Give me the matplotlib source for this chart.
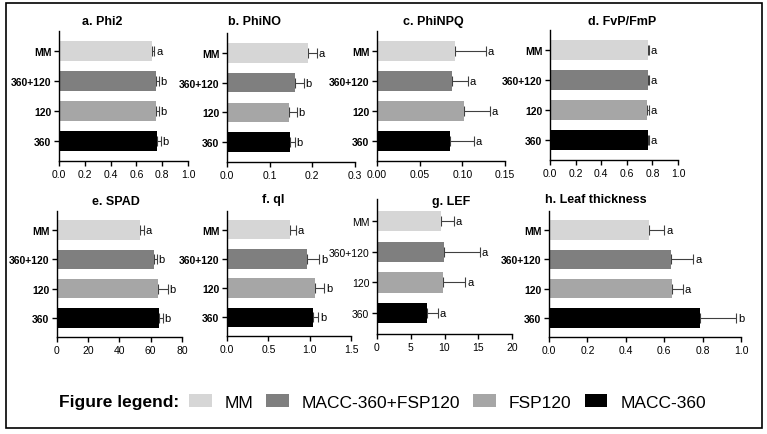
import matplotlib
matplotlib.use('Agg')
import matplotlib.pyplot as plt
from matplotlib.patches import Rectangle
import numpy as np

plt.rcParams['font.family'] = ['Liberation Sans', 'DejaVu Sans']

# groups, top to bottom
groups = ['MM', '360+120', '120', '360']
legend_names = ['MM', 'MACC-360+FSP120', 'FSP120', 'MACC-360']
colors = ['#d6d6d6', '#7f7f7f', '#a6a6a6', '#000000']

# panel data: means, errors, letters
phi2 = [0.72, 0.75, 0.752, 0.762]
phi2_err = [0.02, 0.025, 0.023, 0.026]
phi2_let = ['a', 'b', 'b', 'b']

phino = [0.19, 0.16, 0.145, 0.148]
phino_err = [0.02, 0.021, 0.018, 0.011]
phino_let = ['a', 'b', 'b', 'b']

phinpq = [0.0918, 0.0875, 0.102, 0.0856]
phinpq_err = [0.036, 0.0195, 0.0305, 0.028]
phinpq_let = ['a', 'a', 'a', 'a']

fvfm = [0.762, 0.762, 0.758, 0.762]
fvfm_err = [0.013, 0.013, 0.013, 0.013]
fvfm_let = ['a', 'a', 'a', 'a']

spad = [53.1, 62.1, 64.8, 65.3]
spad_err = [2.8, 1.7, 6.4, 2.3]
spad_let = ['a', 'b', 'b', 'b']

qi = [0.762, 0.972, 1.065, 1.044]
qi_err = [0.073, 0.145, 0.112, 0.061]
qi_let = ['a', 'b', 'b', 'b']

lef = [9.43, 9.93, 9.83, 7.36]
lef_err = [1.97, 5.33, 3.27, 1.73]
lef_let = ['a', 'a', 'a', 'a']

leaf = [0.523, 0.635, 0.639, 0.788]
leaf_err = [0.078, 0.117, 0.057, 0.184]
leaf_let = ['a', 'a', 'a', 'b']

W, H = 767, 435
fig = plt.figure(figsize=(W / 100, H / 100), dpi=100)

def px_axes(x0, x1, ytop, ybot):
    return fig.add_axes([x0 / W, (H - ybot) / H, (x1 - x0) / W, (ybot - ytop) / H])

# (title, title x, title y, vals, errs, letters, xmax, xticks, fmt, axes box, ylim, bold labels)
panels = [
    ('a. Phi2', 82, 22, phi2, phi2_err, phi2_let, 1.0, np.arange(0, 1.01, 0.2), '%.1f', (59, 188, 32, 162), (-0.67, 3.67), True),
    ('b. PhiNO', 228, 22, phino, phino_err, phino_let, 0.3, np.arange(0, 0.31, 0.1), '%.1f', (227, 355, 34, 163), (-0.67, 3.67), True),
    ('c. PhiNPQ', 403, 22, phinpq, phinpq_err, phinpq_let, 0.15, np.arange(0, 0.151, 0.05), '%.2f', (377, 505, 32, 162), (-0.67, 3.67), True),
    ('d. FvP/FmP', 588, 22, fvfm, fvfm_err, fvfm_let, 1.0, np.arange(0, 1.01, 0.2), '%.1f', (550, 678, 31, 161), (-0.67, 3.67), True),
    ('e. SPAD', 92, 202, spad, spad_err, spad_let, 80, np.arange(0, 81, 20), '%d', (57, 182, 212, 338), (-0.65, 3.65), True),
    ('f. qI', 262, 200, qi, qi_err, qi_let, 1.5, np.arange(0, 1.51, 0.5), '%.1f', (227, 351, 212, 337), (-0.65, 3.65), True),
    ('g. LEF', 432, 202, lef, lef_err, lef_let, 20, np.arange(0, 21, 5), '%d', (377, 512, 200, 335), (-0.72, 3.68), False),
    ('h. Leaf thickness', 545, 200, leaf, leaf_err, leaf_let, 1.0, np.arange(0, 1.01, 0.2), '%.1f', (549, 741, 212, 338), (-0.65, 3.65), True),
]

ypos = np.arange(len(groups))
bars_for_legend = None

for (title, tx, ty, vals, errs, lets, xmax, xt, fmt, box, ylim, bold) in panels:
    ax = px_axes(*box)
    vals = np.array(vals)
    errs = np.array(errs)
    ax.errorbar(vals, ypos, xerr=[np.zeros(4), errs], fmt='none',
                ecolor='#404040', elinewidth=0.8, capsize=3.4, capthick=0.8, zorder=1)
    bars = ax.barh(ypos, vals, height=0.66, color=colors, zorder=2)
    if bars_for_legend is None:
        bars_for_legend = bars
    for y, v, e, l in zip(ypos, vals, errs, lets):
        ax.text(v + e + xmax * 0.012, y, l, ha='left', va='center', fontsize=8)
    ax.set_xlim(0, xmax)
    ax.set_ylim(ylim[1], ylim[0])
    ax.set_xticks(xt)
    ax.set_xticklabels([fmt % t for t in xt], fontsize=7.5)
    ax.set_yticks(ypos)
    ax.set_yticklabels(groups, fontsize=7.5, fontweight='bold' if bold else 'normal')
    ax.spines['top'].set_visible(False)
    ax.spines['right'].set_visible(False)
    for s in ['left', 'bottom']:
        ax.spines[s].set_linewidth(1.0)
    ax.tick_params(length=3.5, width=1.0, pad=2)
    fig.text(tx / W, 1 - ty / H, title, fontsize=9, fontweight='bold',
             ha='left', va='center')

# legend row
fig.text(59 / W, 1 - 403 / H, 'Figure legend:', fontsize=12.5, fontweight='bold',
         ha='left', va='center')
fig.legend(list(bars_for_legend), legend_names, loc='center left',
           bbox_to_anchor=(189 / W, 1 - 403 / H), ncol=4, frameon=False,
           fontsize=12.5, handlelength=1.3, handleheight=0.75,
           handletextpad=0.75, columnspacing=0.75, borderpad=0, borderaxespad=0)

# outer frame
fig.patches.append(Rectangle((6 / W, 6 / H), 756 / W, 425 / H, transform=fig.transFigure,
                             fill=False, edgecolor='black', linewidth=1.2))

fig.savefig('out.png', dpi=100)
